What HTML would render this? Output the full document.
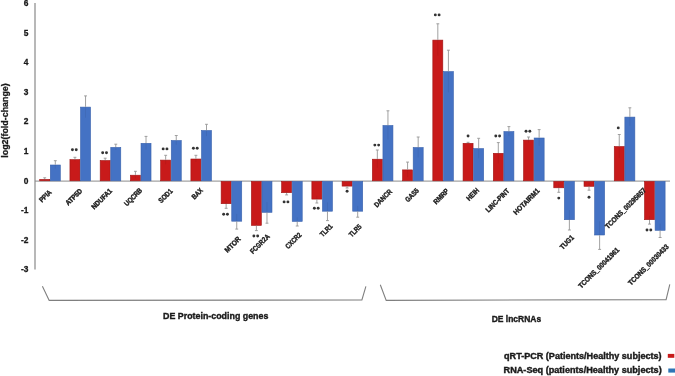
<!DOCTYPE html><html><head><meta charset="utf-8"><style>html,body{margin:0;padding:0;background:#fff;}svg{display:block;filter:blur(0.35px);}text{font-family:"Liberation Sans",sans-serif;font-weight:bold;fill:#1a1a1a;stroke:#1a1a1a;stroke-width:0.3px;}.lab{stroke-width:0.38px;}.big{stroke-width:0.38px;}</style></head><body>
<svg width="675" height="376" viewBox="0 0 675 376">
<rect width="675" height="376" fill="#fff"/>
<line x1="35" y1="3" x2="35" y2="269.5" stroke="#a0a0a0" stroke-width="1.5"/>
<text x="28.4" y="5.9" font-size="8.4" text-anchor="end">6</text>
<text x="28.4" y="35.5" font-size="8.4" text-anchor="end">5</text>
<text x="28.4" y="65.1" font-size="8.4" text-anchor="end">4</text>
<text x="28.4" y="94.7" font-size="8.4" text-anchor="end">3</text>
<text x="28.4" y="124.3" font-size="8.4" text-anchor="end">2</text>
<text x="28.4" y="153.9" font-size="8.4" text-anchor="end">1</text>
<text x="28.4" y="183.5" font-size="8.4" text-anchor="end">0</text>
<text x="28.4" y="213.1" font-size="8.4" text-anchor="end">-1</text>
<text x="28.4" y="242.7" font-size="8.4" text-anchor="end">-2</text>
<text x="28.4" y="272.3" font-size="8.4" text-anchor="end">-3</text>
<text transform="translate(8.2,120.5) rotate(-90)" font-size="9.4" text-anchor="middle" textLength="74.5" lengthAdjust="spacingAndGlyphs">log2(fold-change)</text>
<line x1="35" y1="181.1" x2="670" y2="181.1" stroke="#8c8c8c" stroke-width="1.0"/>
<rect x="39.70" y="179.40" width="10.00" height="1.40" fill="#c81a1a" stroke="#a01515" stroke-width="0.6"/>
<rect x="50.30" y="165.00" width="10.00" height="15.80" fill="#4472c4" stroke="#3a62ac" stroke-width="0.6"/>
<line x1="44.70" y1="179.10" x2="44.70" y2="177.80" stroke="#969696" stroke-width="0.9"/>
<line x1="43.25" y1="177.80" x2="46.15" y2="177.80" stroke="#969696" stroke-width="0.9"/>
<line x1="44.70" y1="179.10" x2="44.70" y2="180.40" stroke="#000" stroke-opacity="0.07" stroke-width="0.9"/>
<line x1="55.30" y1="164.70" x2="55.30" y2="160.70" stroke="#969696" stroke-width="0.9"/>
<line x1="53.85" y1="160.70" x2="56.75" y2="160.70" stroke="#969696" stroke-width="0.9"/>
<line x1="55.30" y1="164.70" x2="55.30" y2="168.70" stroke="#000" stroke-opacity="0.07" stroke-width="0.9"/>
<rect x="69.94" y="159.60" width="10.00" height="21.20" fill="#c81a1a" stroke="#a01515" stroke-width="0.6"/>
<rect x="80.54" y="107.10" width="10.00" height="73.70" fill="#4472c4" stroke="#3a62ac" stroke-width="0.6"/>
<line x1="74.94" y1="159.30" x2="74.94" y2="157.30" stroke="#969696" stroke-width="0.9"/>
<line x1="73.49" y1="157.30" x2="76.39" y2="157.30" stroke="#969696" stroke-width="0.9"/>
<line x1="74.94" y1="159.30" x2="74.94" y2="161.30" stroke="#000" stroke-opacity="0.07" stroke-width="0.9"/>
<line x1="85.54" y1="106.80" x2="85.54" y2="95.90" stroke="#969696" stroke-width="0.9"/>
<line x1="84.09" y1="95.90" x2="86.99" y2="95.90" stroke="#969696" stroke-width="0.9"/>
<line x1="85.54" y1="106.80" x2="85.54" y2="117.70" stroke="#000" stroke-opacity="0.07" stroke-width="0.9"/>
<circle cx="72.44" cy="149.70" r="1.45" fill="#333"/>
<circle cx="76.24" cy="149.70" r="1.45" fill="#333"/>
<rect x="100.18" y="160.50" width="10.00" height="20.30" fill="#c81a1a" stroke="#a01515" stroke-width="0.6"/>
<rect x="110.78" y="147.40" width="10.00" height="33.40" fill="#4472c4" stroke="#3a62ac" stroke-width="0.6"/>
<line x1="105.18" y1="160.20" x2="105.18" y2="158.20" stroke="#969696" stroke-width="0.9"/>
<line x1="103.73" y1="158.20" x2="106.63" y2="158.20" stroke="#969696" stroke-width="0.9"/>
<line x1="105.18" y1="160.20" x2="105.18" y2="162.20" stroke="#000" stroke-opacity="0.07" stroke-width="0.9"/>
<line x1="115.78" y1="147.10" x2="115.78" y2="144.20" stroke="#969696" stroke-width="0.9"/>
<line x1="114.33" y1="144.20" x2="117.23" y2="144.20" stroke="#969696" stroke-width="0.9"/>
<line x1="115.78" y1="147.10" x2="115.78" y2="150.00" stroke="#000" stroke-opacity="0.07" stroke-width="0.9"/>
<circle cx="102.68" cy="152.70" r="1.45" fill="#333"/>
<circle cx="106.48" cy="152.70" r="1.45" fill="#333"/>
<rect x="130.42" y="175.20" width="10.00" height="5.60" fill="#c81a1a" stroke="#a01515" stroke-width="0.6"/>
<rect x="141.02" y="143.30" width="10.00" height="37.50" fill="#4472c4" stroke="#3a62ac" stroke-width="0.6"/>
<line x1="135.42" y1="174.90" x2="135.42" y2="171.30" stroke="#969696" stroke-width="0.9"/>
<line x1="133.97" y1="171.30" x2="136.87" y2="171.30" stroke="#969696" stroke-width="0.9"/>
<line x1="135.42" y1="174.90" x2="135.42" y2="178.50" stroke="#000" stroke-opacity="0.07" stroke-width="0.9"/>
<line x1="146.02" y1="143.00" x2="146.02" y2="136.40" stroke="#969696" stroke-width="0.9"/>
<line x1="144.57" y1="136.40" x2="147.47" y2="136.40" stroke="#969696" stroke-width="0.9"/>
<line x1="146.02" y1="143.00" x2="146.02" y2="149.60" stroke="#000" stroke-opacity="0.07" stroke-width="0.9"/>
<rect x="160.66" y="160.10" width="10.00" height="20.70" fill="#c81a1a" stroke="#a01515" stroke-width="0.6"/>
<rect x="171.26" y="140.50" width="10.00" height="40.30" fill="#4472c4" stroke="#3a62ac" stroke-width="0.6"/>
<line x1="165.66" y1="159.80" x2="165.66" y2="155.30" stroke="#969696" stroke-width="0.9"/>
<line x1="164.21" y1="155.30" x2="167.11" y2="155.30" stroke="#969696" stroke-width="0.9"/>
<line x1="165.66" y1="159.80" x2="165.66" y2="164.30" stroke="#000" stroke-opacity="0.07" stroke-width="0.9"/>
<line x1="176.26" y1="140.20" x2="176.26" y2="135.50" stroke="#969696" stroke-width="0.9"/>
<line x1="174.81" y1="135.50" x2="177.71" y2="135.50" stroke="#969696" stroke-width="0.9"/>
<line x1="176.26" y1="140.20" x2="176.26" y2="144.90" stroke="#000" stroke-opacity="0.07" stroke-width="0.9"/>
<circle cx="163.16" cy="148.90" r="1.45" fill="#333"/>
<circle cx="166.96" cy="148.90" r="1.45" fill="#333"/>
<rect x="190.90" y="159.00" width="10.00" height="21.80" fill="#c81a1a" stroke="#a01515" stroke-width="0.6"/>
<rect x="201.50" y="130.50" width="10.00" height="50.30" fill="#4472c4" stroke="#3a62ac" stroke-width="0.6"/>
<line x1="195.90" y1="158.70" x2="195.90" y2="155.30" stroke="#969696" stroke-width="0.9"/>
<line x1="194.45" y1="155.30" x2="197.35" y2="155.30" stroke="#969696" stroke-width="0.9"/>
<line x1="195.90" y1="158.70" x2="195.90" y2="162.10" stroke="#000" stroke-opacity="0.07" stroke-width="0.9"/>
<line x1="206.50" y1="130.20" x2="206.50" y2="124.30" stroke="#969696" stroke-width="0.9"/>
<line x1="205.05" y1="124.30" x2="207.95" y2="124.30" stroke="#969696" stroke-width="0.9"/>
<line x1="206.50" y1="130.20" x2="206.50" y2="136.10" stroke="#000" stroke-opacity="0.07" stroke-width="0.9"/>
<circle cx="193.40" cy="148.30" r="1.45" fill="#333"/>
<circle cx="197.20" cy="148.30" r="1.45" fill="#333"/>
<rect x="221.14" y="181.40" width="10.00" height="22.30" fill="#c81a1a" stroke="#a01515" stroke-width="0.6"/>
<rect x="231.74" y="181.40" width="10.00" height="39.80" fill="#4472c4" stroke="#3a62ac" stroke-width="0.6"/>
<line x1="226.14" y1="204.00" x2="226.14" y2="208.30" stroke="#969696" stroke-width="0.9"/>
<line x1="224.69" y1="208.30" x2="227.59" y2="208.30" stroke="#969696" stroke-width="0.9"/>
<line x1="226.14" y1="204.00" x2="226.14" y2="199.70" stroke="#000" stroke-opacity="0.07" stroke-width="0.9"/>
<line x1="236.74" y1="221.50" x2="236.74" y2="229.10" stroke="#969696" stroke-width="0.9"/>
<line x1="235.29" y1="229.10" x2="238.19" y2="229.10" stroke="#969696" stroke-width="0.9"/>
<line x1="236.74" y1="221.50" x2="236.74" y2="213.90" stroke="#000" stroke-opacity="0.07" stroke-width="0.9"/>
<circle cx="223.64" cy="214.30" r="1.45" fill="#333"/>
<circle cx="227.44" cy="214.30" r="1.45" fill="#333"/>
<rect x="251.38" y="181.40" width="10.00" height="44.00" fill="#c81a1a" stroke="#a01515" stroke-width="0.6"/>
<rect x="261.98" y="181.40" width="10.00" height="30.90" fill="#4472c4" stroke="#3a62ac" stroke-width="0.6"/>
<line x1="256.38" y1="225.70" x2="256.38" y2="230.60" stroke="#969696" stroke-width="0.9"/>
<line x1="254.93" y1="230.60" x2="257.83" y2="230.60" stroke="#969696" stroke-width="0.9"/>
<line x1="256.38" y1="225.70" x2="256.38" y2="220.80" stroke="#000" stroke-opacity="0.07" stroke-width="0.9"/>
<line x1="266.98" y1="212.60" x2="266.98" y2="223.20" stroke="#969696" stroke-width="0.9"/>
<line x1="265.53" y1="223.20" x2="268.43" y2="223.20" stroke="#969696" stroke-width="0.9"/>
<line x1="266.98" y1="212.60" x2="266.98" y2="202.00" stroke="#000" stroke-opacity="0.07" stroke-width="0.9"/>
<circle cx="253.88" cy="236.00" r="1.45" fill="#333"/>
<circle cx="257.68" cy="236.00" r="1.45" fill="#333"/>
<rect x="281.62" y="181.40" width="10.00" height="11.30" fill="#c81a1a" stroke="#a01515" stroke-width="0.6"/>
<rect x="292.22" y="181.40" width="10.00" height="40.00" fill="#4472c4" stroke="#3a62ac" stroke-width="0.6"/>
<line x1="286.62" y1="193.00" x2="286.62" y2="194.90" stroke="#969696" stroke-width="0.9"/>
<line x1="285.17" y1="194.90" x2="288.07" y2="194.90" stroke="#969696" stroke-width="0.9"/>
<line x1="286.62" y1="193.00" x2="286.62" y2="191.10" stroke="#000" stroke-opacity="0.07" stroke-width="0.9"/>
<line x1="297.22" y1="221.70" x2="297.22" y2="226.00" stroke="#969696" stroke-width="0.9"/>
<line x1="295.77" y1="226.00" x2="298.67" y2="226.00" stroke="#969696" stroke-width="0.9"/>
<line x1="297.22" y1="221.70" x2="297.22" y2="217.40" stroke="#000" stroke-opacity="0.07" stroke-width="0.9"/>
<circle cx="284.12" cy="201.90" r="1.45" fill="#333"/>
<circle cx="287.92" cy="201.90" r="1.45" fill="#333"/>
<rect x="311.86" y="181.40" width="10.00" height="17.70" fill="#c81a1a" stroke="#a01515" stroke-width="0.6"/>
<rect x="322.46" y="181.40" width="10.00" height="29.80" fill="#4472c4" stroke="#3a62ac" stroke-width="0.6"/>
<line x1="316.86" y1="199.40" x2="316.86" y2="203.00" stroke="#969696" stroke-width="0.9"/>
<line x1="315.41" y1="203.00" x2="318.31" y2="203.00" stroke="#969696" stroke-width="0.9"/>
<line x1="316.86" y1="199.40" x2="316.86" y2="195.80" stroke="#000" stroke-opacity="0.07" stroke-width="0.9"/>
<line x1="327.46" y1="211.50" x2="327.46" y2="220.60" stroke="#969696" stroke-width="0.9"/>
<line x1="326.01" y1="220.60" x2="328.91" y2="220.60" stroke="#969696" stroke-width="0.9"/>
<line x1="327.46" y1="211.50" x2="327.46" y2="202.40" stroke="#000" stroke-opacity="0.07" stroke-width="0.9"/>
<circle cx="314.36" cy="208.30" r="1.45" fill="#333"/>
<circle cx="318.16" cy="208.30" r="1.45" fill="#333"/>
<rect x="342.10" y="181.40" width="10.00" height="4.70" fill="#c81a1a" stroke="#a01515" stroke-width="0.6"/>
<rect x="352.70" y="181.40" width="10.00" height="29.80" fill="#4472c4" stroke="#3a62ac" stroke-width="0.6"/>
<line x1="347.10" y1="186.40" x2="347.10" y2="188.00" stroke="#969696" stroke-width="0.9"/>
<line x1="345.65" y1="188.00" x2="348.55" y2="188.00" stroke="#969696" stroke-width="0.9"/>
<line x1="347.10" y1="186.40" x2="347.10" y2="184.80" stroke="#000" stroke-opacity="0.07" stroke-width="0.9"/>
<line x1="357.70" y1="211.50" x2="357.70" y2="217.20" stroke="#969696" stroke-width="0.9"/>
<line x1="356.25" y1="217.20" x2="359.15" y2="217.20" stroke="#969696" stroke-width="0.9"/>
<line x1="357.70" y1="211.50" x2="357.70" y2="205.80" stroke="#000" stroke-opacity="0.07" stroke-width="0.9"/>
<circle cx="347.10" cy="191.30" r="1.45" fill="#333"/>
<rect x="372.34" y="159.20" width="10.00" height="21.60" fill="#c81a1a" stroke="#a01515" stroke-width="0.6"/>
<rect x="382.94" y="125.50" width="10.00" height="55.30" fill="#4472c4" stroke="#3a62ac" stroke-width="0.6"/>
<line x1="377.34" y1="158.90" x2="377.34" y2="150.00" stroke="#969696" stroke-width="0.9"/>
<line x1="375.89" y1="150.00" x2="378.79" y2="150.00" stroke="#969696" stroke-width="0.9"/>
<line x1="377.34" y1="158.90" x2="377.34" y2="167.80" stroke="#000" stroke-opacity="0.07" stroke-width="0.9"/>
<line x1="387.94" y1="125.20" x2="387.94" y2="110.80" stroke="#969696" stroke-width="0.9"/>
<line x1="386.49" y1="110.80" x2="389.39" y2="110.80" stroke="#969696" stroke-width="0.9"/>
<line x1="387.94" y1="125.20" x2="387.94" y2="139.60" stroke="#000" stroke-opacity="0.07" stroke-width="0.9"/>
<circle cx="374.84" cy="145.10" r="1.45" fill="#333"/>
<circle cx="378.64" cy="145.10" r="1.45" fill="#333"/>
<rect x="402.58" y="169.90" width="10.00" height="10.90" fill="#c81a1a" stroke="#a01515" stroke-width="0.6"/>
<rect x="413.18" y="147.50" width="10.00" height="33.30" fill="#4472c4" stroke="#3a62ac" stroke-width="0.6"/>
<line x1="407.58" y1="169.60" x2="407.58" y2="162.10" stroke="#969696" stroke-width="0.9"/>
<line x1="406.13" y1="162.10" x2="409.03" y2="162.10" stroke="#969696" stroke-width="0.9"/>
<line x1="407.58" y1="169.60" x2="407.58" y2="177.10" stroke="#000" stroke-opacity="0.07" stroke-width="0.9"/>
<line x1="418.18" y1="147.20" x2="418.18" y2="137.00" stroke="#969696" stroke-width="0.9"/>
<line x1="416.73" y1="137.00" x2="419.63" y2="137.00" stroke="#969696" stroke-width="0.9"/>
<line x1="418.18" y1="147.20" x2="418.18" y2="157.40" stroke="#000" stroke-opacity="0.07" stroke-width="0.9"/>
<rect x="432.82" y="40.10" width="10.00" height="140.70" fill="#c81a1a" stroke="#a01515" stroke-width="0.6"/>
<rect x="443.42" y="71.60" width="10.00" height="109.20" fill="#4472c4" stroke="#3a62ac" stroke-width="0.6"/>
<line x1="437.82" y1="39.80" x2="437.82" y2="23.80" stroke="#969696" stroke-width="0.9"/>
<line x1="436.37" y1="23.80" x2="439.27" y2="23.80" stroke="#969696" stroke-width="0.9"/>
<line x1="437.82" y1="39.80" x2="437.82" y2="55.80" stroke="#000" stroke-opacity="0.07" stroke-width="0.9"/>
<line x1="448.42" y1="71.30" x2="448.42" y2="50.20" stroke="#969696" stroke-width="0.9"/>
<line x1="446.97" y1="50.20" x2="449.87" y2="50.20" stroke="#969696" stroke-width="0.9"/>
<line x1="448.42" y1="71.30" x2="448.42" y2="92.40" stroke="#000" stroke-opacity="0.07" stroke-width="0.9"/>
<circle cx="435.32" cy="14.90" r="1.45" fill="#333"/>
<circle cx="439.12" cy="14.90" r="1.45" fill="#333"/>
<rect x="463.06" y="143.30" width="10.00" height="37.50" fill="#c81a1a" stroke="#a01515" stroke-width="0.6"/>
<rect x="473.66" y="148.60" width="10.00" height="32.20" fill="#4472c4" stroke="#3a62ac" stroke-width="0.6"/>
<line x1="468.06" y1="143.00" x2="468.06" y2="142.30" stroke="#969696" stroke-width="0.9"/>
<line x1="466.61" y1="142.30" x2="469.51" y2="142.30" stroke="#969696" stroke-width="0.9"/>
<line x1="468.06" y1="143.00" x2="468.06" y2="143.70" stroke="#000" stroke-opacity="0.07" stroke-width="0.9"/>
<line x1="478.66" y1="148.30" x2="478.66" y2="138.30" stroke="#969696" stroke-width="0.9"/>
<line x1="477.21" y1="138.30" x2="480.11" y2="138.30" stroke="#969696" stroke-width="0.9"/>
<line x1="478.66" y1="148.30" x2="478.66" y2="158.30" stroke="#000" stroke-opacity="0.07" stroke-width="0.9"/>
<circle cx="468.06" cy="136.00" r="1.45" fill="#333"/>
<rect x="493.30" y="153.30" width="10.00" height="27.50" fill="#c81a1a" stroke="#a01515" stroke-width="0.6"/>
<rect x="503.90" y="131.60" width="10.00" height="49.20" fill="#4472c4" stroke="#3a62ac" stroke-width="0.6"/>
<line x1="498.30" y1="153.00" x2="498.30" y2="142.60" stroke="#969696" stroke-width="0.9"/>
<line x1="496.85" y1="142.60" x2="499.75" y2="142.60" stroke="#969696" stroke-width="0.9"/>
<line x1="498.30" y1="153.00" x2="498.30" y2="163.40" stroke="#000" stroke-opacity="0.07" stroke-width="0.9"/>
<line x1="508.90" y1="131.30" x2="508.90" y2="126.60" stroke="#969696" stroke-width="0.9"/>
<line x1="507.45" y1="126.60" x2="510.35" y2="126.60" stroke="#969696" stroke-width="0.9"/>
<line x1="508.90" y1="131.30" x2="508.90" y2="136.00" stroke="#000" stroke-opacity="0.07" stroke-width="0.9"/>
<circle cx="495.80" cy="136.00" r="1.45" fill="#333"/>
<circle cx="499.60" cy="136.00" r="1.45" fill="#333"/>
<rect x="523.54" y="140.10" width="10.00" height="40.70" fill="#c81a1a" stroke="#a01515" stroke-width="0.6"/>
<rect x="534.14" y="138.00" width="10.00" height="42.80" fill="#4472c4" stroke="#3a62ac" stroke-width="0.6"/>
<line x1="528.54" y1="139.80" x2="528.54" y2="137.00" stroke="#969696" stroke-width="0.9"/>
<line x1="527.09" y1="137.00" x2="529.99" y2="137.00" stroke="#969696" stroke-width="0.9"/>
<line x1="528.54" y1="139.80" x2="528.54" y2="142.60" stroke="#000" stroke-opacity="0.07" stroke-width="0.9"/>
<line x1="539.14" y1="137.70" x2="539.14" y2="129.60" stroke="#969696" stroke-width="0.9"/>
<line x1="537.69" y1="129.60" x2="540.59" y2="129.60" stroke="#969696" stroke-width="0.9"/>
<line x1="539.14" y1="137.70" x2="539.14" y2="145.80" stroke="#000" stroke-opacity="0.07" stroke-width="0.9"/>
<circle cx="526.04" cy="131.30" r="1.45" fill="#333"/>
<circle cx="529.84" cy="131.30" r="1.45" fill="#333"/>
<rect x="553.78" y="181.40" width="10.00" height="6.40" fill="#c81a1a" stroke="#a01515" stroke-width="0.6"/>
<rect x="564.38" y="181.40" width="10.00" height="38.30" fill="#4472c4" stroke="#3a62ac" stroke-width="0.6"/>
<line x1="558.78" y1="188.10" x2="558.78" y2="192.30" stroke="#969696" stroke-width="0.9"/>
<line x1="557.33" y1="192.30" x2="560.23" y2="192.30" stroke="#969696" stroke-width="0.9"/>
<line x1="558.78" y1="188.10" x2="558.78" y2="183.90" stroke="#000" stroke-opacity="0.07" stroke-width="0.9"/>
<line x1="569.38" y1="220.00" x2="569.38" y2="230.00" stroke="#969696" stroke-width="0.9"/>
<line x1="567.93" y1="230.00" x2="570.83" y2="230.00" stroke="#969696" stroke-width="0.9"/>
<line x1="569.38" y1="220.00" x2="569.38" y2="210.00" stroke="#000" stroke-opacity="0.07" stroke-width="0.9"/>
<circle cx="558.78" cy="198.10" r="1.45" fill="#333"/>
<rect x="584.02" y="181.40" width="10.00" height="4.90" fill="#c81a1a" stroke="#a01515" stroke-width="0.6"/>
<rect x="594.62" y="181.40" width="10.00" height="53.60" fill="#4472c4" stroke="#3a62ac" stroke-width="0.6"/>
<line x1="589.02" y1="186.60" x2="589.02" y2="190.20" stroke="#969696" stroke-width="0.9"/>
<line x1="587.57" y1="190.20" x2="590.47" y2="190.20" stroke="#969696" stroke-width="0.9"/>
<line x1="589.02" y1="186.60" x2="589.02" y2="183.00" stroke="#000" stroke-opacity="0.07" stroke-width="0.9"/>
<line x1="599.62" y1="235.30" x2="599.62" y2="249.40" stroke="#969696" stroke-width="0.9"/>
<line x1="598.17" y1="249.40" x2="601.07" y2="249.40" stroke="#969696" stroke-width="0.9"/>
<line x1="599.62" y1="235.30" x2="599.62" y2="221.20" stroke="#000" stroke-opacity="0.07" stroke-width="0.9"/>
<circle cx="589.02" cy="197.20" r="1.45" fill="#333"/>
<rect x="614.26" y="146.50" width="10.00" height="34.30" fill="#c81a1a" stroke="#a01515" stroke-width="0.6"/>
<rect x="624.86" y="117.10" width="10.00" height="63.70" fill="#4472c4" stroke="#3a62ac" stroke-width="0.6"/>
<line x1="619.26" y1="146.20" x2="619.26" y2="134.50" stroke="#969696" stroke-width="0.9"/>
<line x1="617.81" y1="134.50" x2="620.71" y2="134.50" stroke="#969696" stroke-width="0.9"/>
<line x1="619.26" y1="146.20" x2="619.26" y2="157.90" stroke="#000" stroke-opacity="0.07" stroke-width="0.9"/>
<line x1="629.86" y1="116.80" x2="629.86" y2="107.80" stroke="#969696" stroke-width="0.9"/>
<line x1="628.41" y1="107.80" x2="631.31" y2="107.80" stroke="#969696" stroke-width="0.9"/>
<line x1="629.86" y1="116.80" x2="629.86" y2="125.80" stroke="#000" stroke-opacity="0.07" stroke-width="0.9"/>
<circle cx="618.26" cy="127.90" r="1.45" fill="#333"/>
<rect x="644.50" y="181.40" width="10.00" height="38.30" fill="#c81a1a" stroke="#a01515" stroke-width="0.6"/>
<rect x="655.10" y="181.40" width="10.00" height="48.90" fill="#4472c4" stroke="#3a62ac" stroke-width="0.6"/>
<line x1="649.50" y1="220.00" x2="649.50" y2="224.10" stroke="#969696" stroke-width="0.9"/>
<line x1="648.05" y1="224.10" x2="650.95" y2="224.10" stroke="#969696" stroke-width="0.9"/>
<line x1="649.50" y1="220.00" x2="649.50" y2="215.90" stroke="#000" stroke-opacity="0.07" stroke-width="0.9"/>
<line x1="660.10" y1="230.60" x2="660.10" y2="237.50" stroke="#969696" stroke-width="0.9"/>
<line x1="658.65" y1="237.50" x2="661.55" y2="237.50" stroke="#969696" stroke-width="0.9"/>
<line x1="660.10" y1="230.60" x2="660.10" y2="223.70" stroke="#000" stroke-opacity="0.07" stroke-width="0.9"/>
<circle cx="647.00" cy="230.00" r="1.45" fill="#333"/>
<circle cx="650.80" cy="230.00" r="1.45" fill="#333"/>
<text transform="translate(47.01,197.81) rotate(-45)" font-size="7.2" text-anchor="middle" textLength="14.2" lengthAdjust="spacingAndGlyphs" class="lab">PPIA</text>
<text transform="translate(75.46,198.61) rotate(-45)" font-size="7.2" text-anchor="middle" textLength="20.4" lengthAdjust="spacingAndGlyphs" class="lab">ATP5D</text>
<text transform="translate(103.41,200.61) rotate(-45)" font-size="7.2" text-anchor="middle" textLength="25.8" lengthAdjust="spacingAndGlyphs" class="lab">NDUFA1</text>
<text transform="translate(134.86,198.76) rotate(-45)" font-size="7.2" text-anchor="middle" textLength="22.0" lengthAdjust="spacingAndGlyphs" class="lab">UQCRB</text>
<text transform="translate(167.21,197.51) rotate(-45)" font-size="7.2" text-anchor="middle" textLength="16.8" lengthAdjust="spacingAndGlyphs" class="lab">SOD1</text>
<text transform="translate(198.96,195.41) rotate(-45)" font-size="7.2" text-anchor="middle" textLength="12.6" lengthAdjust="spacingAndGlyphs" class="lab">BAX</text>
<text transform="translate(234.36,246.26) rotate(-45)" font-size="7.2" text-anchor="middle" textLength="19.2" lengthAdjust="spacingAndGlyphs" class="lab">MTOR</text>
<text transform="translate(261.61,245.61) rotate(-45)" font-size="7.2" text-anchor="middle" textLength="24.3" lengthAdjust="spacingAndGlyphs" class="lab">FCGR2A</text>
<text transform="translate(295.16,242.31) rotate(-45)" font-size="7.2" text-anchor="middle" textLength="19.7" lengthAdjust="spacingAndGlyphs" class="lab">CXCR2</text>
<text transform="translate(327.91,232.16) rotate(-45)" font-size="7.2" text-anchor="middle" textLength="14.6" lengthAdjust="spacingAndGlyphs" class="lab">TLR1</text>
<text transform="translate(356.91,232.31) rotate(-45)" font-size="7.2" text-anchor="middle" textLength="14.6" lengthAdjust="spacingAndGlyphs" class="lab">TLR5</text>
<text transform="translate(384.76,199.86) rotate(-45)" font-size="7.2" text-anchor="middle" textLength="22.0" lengthAdjust="spacingAndGlyphs" class="lab">DANCR</text>
<text transform="translate(413.66,196.81) rotate(-45)" font-size="7.2" text-anchor="middle" textLength="16.3" lengthAdjust="spacingAndGlyphs" class="lab">GAS5</text>
<text transform="translate(442.76,198.16) rotate(-45)" font-size="7.2" text-anchor="middle" textLength="18.6" lengthAdjust="spacingAndGlyphs" class="lab">RMRP</text>
<text transform="translate(474.41,196.06) rotate(-45)" font-size="7.2" text-anchor="middle" textLength="14.8" lengthAdjust="spacingAndGlyphs" class="lab">HEIH</text>
<text transform="translate(499.26,202.11) rotate(-45)" font-size="7.2" text-anchor="middle" textLength="30.4" lengthAdjust="spacingAndGlyphs" class="lab">LINC-PINT</text>
<text transform="translate(528.16,203.21) rotate(-45)" font-size="7.2" text-anchor="middle" textLength="33.9" lengthAdjust="spacingAndGlyphs" class="lab">HOTAIRM1</text>
<text transform="translate(568.61,244.01) rotate(-45)" font-size="7.2" text-anchor="middle" textLength="16.8" lengthAdjust="spacingAndGlyphs" class="lab">TUG1</text>
<text transform="translate(600.51,269.66) rotate(-45)" font-size="7.2" text-anchor="middle" textLength="54.3" lengthAdjust="spacingAndGlyphs" class="lab">TCONS_00041961</text>
<text transform="translate(627.26,209.96) rotate(-45)" font-size="7.2" text-anchor="middle" textLength="54.3" lengthAdjust="spacingAndGlyphs" class="lab">TCONS_00295657</text>
<text transform="translate(650.11,266.51) rotate(-45)" font-size="7.2" text-anchor="middle" textLength="54.3" lengthAdjust="spacingAndGlyphs" class="lab">TCONS_00030433</text>
<polyline points="42.4,286.2 49.2,300.4 361.9,300.0 365.9,286.3" fill="none" stroke="#7f7f7f" stroke-width="1.1"/>
<polyline points="380.3,284.8 386.2,300.4 666.1,299.6 669.8,284.4" fill="none" stroke="#7f7f7f" stroke-width="1.1"/>
<text class="big" x="163" y="318.7" font-size="9.2" textLength="105.4" lengthAdjust="spacingAndGlyphs">DE Protein-coding genes</text>
<text class="big" x="491.7" y="321.6" font-size="9" textLength="49.5" lengthAdjust="spacingAndGlyphs">DE lncRNAs</text>
<text class="big" x="504.1" y="358.6" font-size="8.2" textLength="157.5" lengthAdjust="spacingAndGlyphs">qRT-PCR (Patients/Healthy subjects)</text>
<text class="big" x="503.6" y="372.9" font-size="8.2" textLength="158.1" lengthAdjust="spacingAndGlyphs">RNA-Seq (patients/Healthy subjects)</text>
<rect x="667.8" y="353.9" width="6.5" height="3.9" fill="#c81a1a"/>
<rect x="668.3" y="368.5" width="6.7" height="4.1" fill="#2e75b6"/>
</svg></body></html>
